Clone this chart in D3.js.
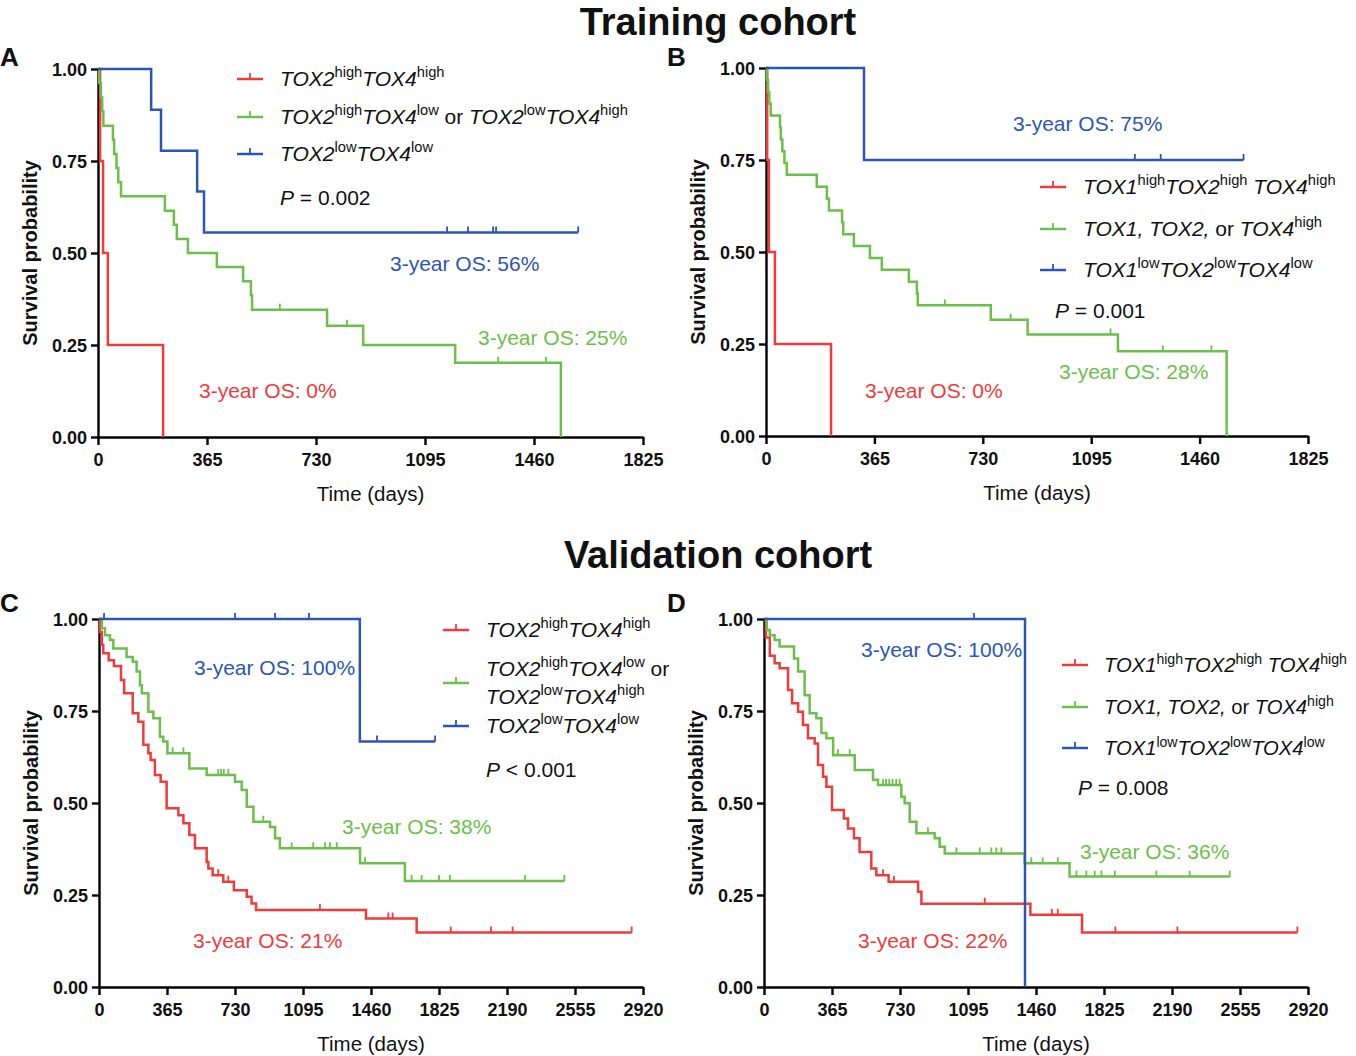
<!DOCTYPE html>
<html lang="en">
<head>
<meta charset="utf-8">
<style>
  html, body { margin: 0; padding: 0; background: #fff; }
  svg { display: block; }
  text { font-family: "Liberation Sans", Arial, sans-serif; fill: #111; white-space: pre; }
</style>
</head>
<body>
<svg width="1356" height="1056"></svg>
<script src="https://d3js.org/d3.v7.min.js"></script>
<script>
// ---- data: Kaplan-Meier steps [day, survival], censor days ----
// A: training, TOX2/TOX4
const aRed = [[0,1],[7,0.75],[17,0.5],[33,0.25],[218,0]];
const aRedCens = [];
const aGreen = [[0,1],[4,0.962],[10,0.923],[14,0.885],[18,0.846],[50,0.808],[54,0.769],[62,0.731],[68,0.692],[77,0.654],
  [224,0.615],[254,0.577],[264,0.538],[301,0.5],[398,0.462],[486,0.423],[512,0.385],[516,0.346],[767,0.302],[888,0.25],[1196,0.202],[1550,0]];
const aGreenCens = [609, 834, 1340, 1500];
const aBlue = [[0,1],[178,0.889],[211,0.778],[332,0.667],[355,0.556],[1608,0.556]];
const aBlueCens = [1169, 1239, 1323, 1333, 1608];

// B: training, TOX1/TOX2/TOX4
const bRed = [[0,1],[4,0.75],[10,0.5],[30,0.25],[219,0]];
const bRedCens = [];
const bGreen = [[0,1],[3,0.968],[7,0.935],[11,0.903],[16,0.871],[47,0.839],[50,0.806],[55,0.774],[62,0.742],[70,0.71],
  [171,0.677],[205,0.645],[212,0.613],[256,0.581],[260,0.548],[296,0.516],[350,0.484],[390,0.452],[481,0.419],[508,0.387],
  [511,0.355],[757,0.316],[881,0.276],[1185,0.23],[1551,0]];
const bGreenCens = [602, 824, 1160, 1336, 1500];
const bBlue = [[0,1],[330,0.75],[1608,0.75]];
const bBlueCens = [1242, 1329, 1608];

// C: validation, TOX2/TOX4
const cRed = [[0,1],[5,0.965],[15,0.93],[23,0.907],[52,0.888],[80,0.872],[118,0.834],[135,0.798],[181,0.744],[211,0.721],
  [238,0.658],[265,0.635],[277,0.617],[300,0.576],[331,0.558],[363,0.486],[426,0.467],[453,0.445],[485,0.413],[515,0.377],
  [578,0.34],[587,0.322],[610,0.304],[667,0.286],[724,0.263],[793,0.245],[819,0.227],[843,0.209],[1433,0.186],[1705,0.148],[2859,0.148]];
const cRedCens = [640, 694, 1186, 1553, 1576, 1888, 2104, 2220, 2859];
const cGreen = [[0,1],[15,0.975],[32,0.956],[59,0.943],[77,0.92],[148,0.897],[181,0.884],[202,0.857],[220,0.82],[230,0.798],
  [265,0.748],[292,0.73],[327,0.68],[345,0.667],[367,0.635],[485,0.594],[578,0.576],[730,0.558],[766,0.535],[793,0.49],
  [829,0.449],[918,0.435],[945,0.404],[971,0.377],[1401,0.336],[1642,0.288],[2498,0.288]];
const cGreenCens = [395, 453, 640, 655, 670, 694, 882, 1034, 1150, 1213, 1240, 1276, 1428, 1678, 1732, 1825, 1884, 2287, 2498];
const cBlue = [[0,1],[1400,0.667],[1804,0.667]];
const cBlueCens = [27, 730, 945, 1127, 1492, 1804];

// D: validation, TOX1/TOX2/TOX4
const dRed = [[0,1],[10,0.95],[31,0.9],[57,0.88],[84,0.866],[129,0.807],[151,0.771],[183,0.748],[209,0.712],[236,0.676],
  [272,0.662],[290,0.603],[317,0.571],[335,0.544],[365,0.481],[429,0.458],[451,0.431],[483,0.404],[513,0.367],[576,0.322],
  [603,0.304],[669,0.286],[827,0.259],[845,0.226],[1430,0.196],[1707,0.148],[2863,0.148]];
const dRedCens = [639, 698, 1185, 1545, 1577, 1886, 2219, 2863];
const dGreen = [[0,1],[15,0.97],[31,0.956],[57,0.943],[84,0.925],[161,0.893],[183,0.857],[218,0.793],[245,0.744],[281,0.73],
  [308,0.69],[335,0.676],[371,0.63],[487,0.59],[585,0.563],[612,0.549],[737,0.517],[755,0.499],[782,0.449],[818,0.418],
  [916,0.404],[943,0.381],[970,0.363],[1399,0.336],[1640,0.3],[2500,0.3]];
const dGreenCens = [397, 460, 639, 655, 672, 690, 710, 728, 880, 1033, 1158, 1220, 1247, 1274, 1435, 1496, 1577,
  1677, 1730, 1775, 1811, 1883, 2106, 2285, 2500];
const dBlue = [[0,1],[1401,0]];
const dBlueCens = [1127];

// ticks
const ticks5y = [0, 365, 730, 1095, 1460, 1825];
const ticks8y = [0, 365, 730, 1095, 1460, 1825, 2190, 2555, 2920];
const yTicks = [0, 0.25, 0.5, 0.75, 1];

// texts (segments: i = italic, s = superscript, n = normal)
const legTox24 = [
  [[["TOX2","i"],["high","s"],["TOX4","i"],["high","s"]]],
  [[["TOX2","i"],["high","s"],["TOX4","i"],["low","s"],[" or ","n"],["TOX2","i"],["low","s"],["TOX4","i"],["high","s"]]],
  [[["TOX2","i"],["low","s"],["TOX4","i"],["low","s"]]]
];
const legTox24split = [
  [[["TOX2","i"],["high","s"],["TOX4","i"],["high","s"]]],
  [[["TOX2","i"],["high","s"],["TOX4","i"],["low","s"],[" or","n"]], [["TOX2","i"],["low","s"],["TOX4","i"],["high","s"]]],
  [[["TOX2","i"],["low","s"],["TOX4","i"],["low","s"]]]
];
const legTox124 = [
  [[["TOX1","i"],["high","s"],["TOX2","i"],["high","s"],[" TOX4","i"],["high","s"]]],
  [[["TOX1, TOX2,","i"],[" or ","n"],["TOX4","i"],["high","s"]]],
  [[["TOX1","i"],["low","s"],["TOX2","i"],["low","s"],["TOX4","i"],["low","s"]]]
];
const pValues = ["= 0.002", "= 0.001", "< 0.001", "= 0.008"];
const osA = ["3-year OS: 0%", "3-year OS: 25%", "3-year OS: 56%"];
const osB = ["3-year OS: 0%", "3-year OS: 28%", "3-year OS: 75%"];
const osC = ["3-year OS: 21%", "3-year OS: 38%", "3-year OS: 100%"];
const osD = ["3-year OS: 22%", "3-year OS: 36%", "3-year OS: 100%"];

// ---- drawing ----
const svg = d3.select("svg");
const colors = ["#ee3b3b", "#6cbf4a", "#2d55b5"];

const panels = [
  { letter: "A", lx: 0, ly: 66, x0: 98, x1: 643, yTop: 69, yBot: 437, tMax: 1825, xt: ticks5y,
    series: [[aRed, aRedCens], [aGreen, aGreenCens], [aBlue, aBlueCens]],
    legend: legTox24, legSize: 21, legX: 237, legTx: 280, legY: [79, 117, 154], p: pValues[0], pX: 280, pY: 198,
    os: osA, osPos: [[199, 391], [478, 338], [390, 264]] },
  { letter: "B", lx: 667, ly: 66, x0: 766, x1: 1308, yTop: 68, yBot: 436, tMax: 1825, xt: ticks5y,
    series: [[bRed, bRedCens], [bGreen, bGreenCens], [bBlue, bBlueCens]],
    legend: legTox124, legSize: 21, legX: 1040, legTx: 1083, legY: [187, 229, 270], p: pValues[1], pX: 1055, pY: 311,
    os: osB, osPos: [[865, 391], [1059, 372], [1013, 124]] },
  { letter: "C", lx: 0, ly: 612, x0: 99, x1: 643, yTop: 619, yBot: 987, tMax: 2920, xt: ticks8y,
    series: [[cRed, cRedCens], [cGreen, cGreenCens], [cBlue, cBlueCens]],
    legend: legTox24split, legSize: 21, legX: 443, legTx: 486, legY: [630, 683, 726], p: pValues[2], pX: 486, pY: 770,
    os: osC, osPos: [[193, 941], [342, 827], [194, 668]] },
  { letter: "D", lx: 667, ly: 612, x0: 764, x1: 1308, yTop: 619, yBot: 987, tMax: 2920, xt: ticks8y,
    series: [[dRed, dRedCens], [dGreen, dGreenCens], [dBlue, dBlueCens]],
    legend: legTox124, legSize: 20.2, legX: 1062, legTx: 1104, legY: [665, 707, 748], p: pValues[3], pX: 1078, pY: 788,
    os: osD, osPos: [[858, 941], [1080, 852], [861, 650]] }
];

function richText(g, segs, x, y, size) {
  const t = g.append("text").attr("x", x).attr("y", y).attr("font-size", size);
  let up = false;
  segs.forEach(([txt, st]) => {
    const ts = t.append("tspan").text(txt);
    if (st === "s") {
      ts.attr("font-size", size * 0.7).attr("font-style", "normal");
      if (!up) ts.attr("dy", -size * 0.42);
      up = true;
    } else {
      if (up) ts.attr("dy", size * 0.42);
      up = false;
      ts.attr("font-style", st === "i" ? "italic" : "normal");
    }
  });
  return t;
}

// titles
svg.append("text").attr("x", 718).attr("y", 34.5).attr("text-anchor", "middle")
  .attr("font-size", 38).attr("font-weight", "bold").text("Training cohort");
svg.append("text").attr("x", 718).attr("y", 568).attr("text-anchor", "middle")
  .attr("font-size", 38).attr("font-weight", "bold").text("Validation cohort");

panels.forEach(p => {
  const x = d3.scaleLinear().domain([0, p.tMax]).range([p.x0, p.x1]);
  const y = d3.scaleLinear().domain([0, 1]).range([p.yBot, p.yTop]);
  const g = svg.append("g");

  g.append("text").attr("x", p.lx).attr("y", p.ly).attr("font-size", 26)
    .attr("font-weight", "bold").text(p.letter);

  // axes
  const xa = g.append("g").attr("transform", `translate(0,${p.yBot})`)
    .call(d3.axisBottom(x).tickValues(p.xt).tickSize(8).tickSizeOuter(0).tickPadding(8).tickFormat(d3.format("d")));
  const ya = g.append("g").attr("transform", `translate(${p.x0},0)`)
    .call(d3.axisLeft(y).tickValues(yTicks).tickSize(7).tickSizeOuter(0).tickPadding(4).tickFormat(d3.format(".2f")));
  [xa, ya].forEach(a => {
    a.selectAll("path, line").attr("stroke", "#000").attr("stroke-width", 2.4);
    a.selectAll("text").attr("font-size", 18).attr("font-weight", "bold")
      .attr("font-family", "'Liberation Sans', Arial, sans-serif").attr("fill", "#111");
  });
  ya.selectAll("text").attr("dy", "0.36em");

  g.append("text").attr("x", (p.x0 + p.x1) / 2).attr("y", p.yBot + 64).attr("text-anchor", "middle")
    .attr("font-size", 20.5).text("Time (days)");
  g.append("text").attr("transform", `translate(${p.x0 - 61},${(p.yTop + p.yBot) / 2}) rotate(-90)`)
    .attr("text-anchor", "middle").attr("font-size", 20).attr("font-weight", "bold").text("Survival probability");

  // curves
  const line = d3.line().x(d => x(d[0])).y(d => y(d[1])).curve(d3.curveStepAfter);
  const bis = d3.bisector(d => d[0]).right;
  p.series.forEach(([steps, cens], i) => {
    g.append("path").datum(steps).attr("d", line)
      .attr("fill", "none").attr("stroke", colors[i]).attr("stroke-width", 2.5);
    g.selectAll(null).data(cens).join("line")
      .attr("x1", t => x(t)).attr("x2", t => x(t))
      .attr("y1", t => y(steps[bis(steps, t) - 1][1]))
      .attr("y2", t => y(steps[bis(steps, t) - 1][1]) - 6)
      .attr("stroke", colors[i]).attr("stroke-width", 1.8);
  });

  // legend
  p.legend.forEach((lines, i) => {
    const cy = p.legY[i];
    g.append("line").attr("x1", p.legX).attr("x2", p.legX + 26).attr("y1", cy).attr("y2", cy)
      .attr("stroke", colors[i]).attr("stroke-width", 2.5);
    g.append("line").attr("x1", p.legX + 13).attr("x2", p.legX + 13).attr("y1", cy).attr("y2", cy - 6)
      .attr("stroke", colors[i]).attr("stroke-width", 1.8);
    const n = lines.length;
    lines.forEach((segs, k) => {
      const ty = cy + 7 + (k - (n - 1) / 2) * 28;
      richText(g, segs, p.legTx, ty, p.legSize);
    });
  });
  richText(g, [["P", "i"], [" " + p.p, "n"]], p.pX, p.pY + 7, 21);

  // 3-year OS labels
  p.os.forEach((s, i) => {
    g.append("text").attr("x", p.osPos[i][0]).attr("y", p.osPos[i][1] + 7)
      .attr("font-size", 21).style("fill", colors[i]).text(s);
  });
});
</script>
</body>
</html>
